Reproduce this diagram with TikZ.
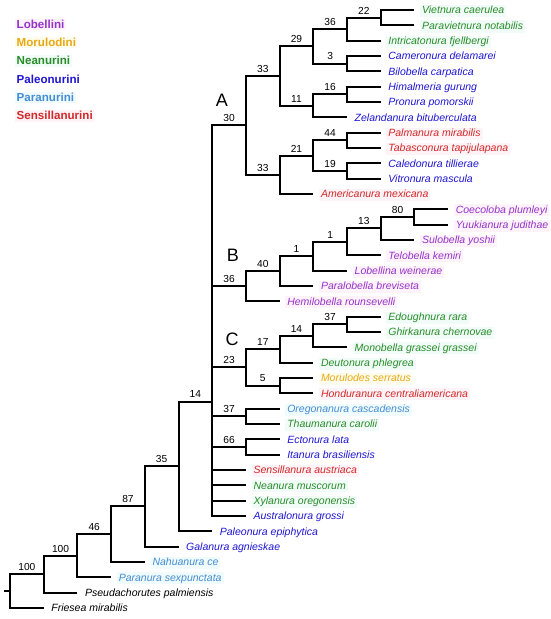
\documentclass[tikz,border=0pt]{standalone}
\usepackage{fontspec}
\setmainfont{Liberation Sans}
\definecolor{cLo}{RGB}{150,50,200}
\definecolor{cMo}{RGB}{232,168,20}
\definecolor{cNe}{RGB}{40,140,40}
\definecolor{cPa}{RGB}{30,20,210}
\definecolor{cPr}{RGB}{70,140,210}
\definecolor{cSe}{RGB}{210,40,40}
\definecolor{bLo}{RGB}{254,243,250}
\definecolor{bMo}{RGB}{254,252,236}
\definecolor{bNe}{RGB}{241,252,248}
\definecolor{bPr}{RGB}{239,251,252}
\definecolor{bSe}{RGB}{254,243,247}
\tikzset{
  br/.style={line width=2pt, line join=miter},
  sp/.style={font=\itshape\fontsize{10.5}{12}\selectfont, inner xsep=2pt, inner ysep=1pt,
    text height=7.8pt, text depth=2.4pt, anchor=base west},
  lbl/.style={font=\fontsize{10.2}{12}\selectfont, above=2.6pt, inner sep=0pt},
  leg/.style={font=\bfseries\fontsize{11.6}{13}\selectfont, anchor=base west, inner xsep=1.5pt, inner ysep=1pt,
    text height=8.5pt, text depth=1pt},
  big/.style={font=\fontsize{18}{20}\selectfont, inner sep=0pt},
  Lo/.style={text=cLo, fill=bLo},
  Mo/.style={text=cMo, fill=bMo},
  Ne/.style={text=cNe, fill=bNe},
  Pa/.style={text=cPa},
  Pr/.style={text=cPr, fill=bPr},
  Se/.style={text=cSe, fill=bSe},
  Bk/.style={text=black}
}
\newcommand\inode[3]{\coordinate (#1) at ({10+33.7*#2},{10+15.33*#3});}
\newcommand\leaf[5]{%
  \coordinate (#1) at ({10+33.7*#2},{10+15.33*#3});
  \node[sp,#4,xshift=5.5pt,yshift=-3.8pt] (#1t) at (#1) {#5};}
\newcommand\edge[2]{\draw[br] (#1) |- (#2);}
\newcommand\ledge[3]{\draw[br] (#1) |- node[lbl,pos=0.75] (#2n) {#3} (#2);}
\begin{document}
\begin{tikzpicture}[x={(1pt,0)}, y={(0,-1pt)}]
\useasboundingbox (0,0) rectangle (550,619);
% legend
\node[leg,Lo] (g1) at (15,28) {Lobellini};
\node[leg,Mo] (g2) at (15,46.4) {Morulodini};
\node[leg,Ne] (g3) at (15,64.7) {Neanurini};
\node[leg,Pa] (g4) at (15,83.1) {Paleonurini};
\node[leg,Pr] (g5) at (15,101.4) {Paranurini};
\node[leg,Se] (g6) at (15,119.8) {Sensillanurini};
% internal nodes
\inode{R}{0}{37.9}
\inode{N1}{1}{36.8}
\inode{N2}{2}{35.6}
\inode{N3}{3}{34.19}
\inode{N4}{4}{32.385}
\inode{N5}{5}{29.77}
\inode{N6}{6}{25.54}
\inode{A}{7}{7.53125}
\inode{A1}{8}{4.3125}
\inode{A11}{9}{2.375}
\inode{A111}{10}{1.25}
\inode{A1111}{11}{0.5}
\inode{A112}{10}{3.5}
\inode{A12}{9}{6.25}
\inode{A121}{10}{5.5}
\inode{A2}{8}{10.75}
\inode{A21}{9}{9.5}
\inode{A211}{10}{8.5}
\inode{A212}{10}{10.5}
\inode{B}{7}{18.015625}
\inode{B1}{8}{17.03125}
\inode{B11}{9}{16.0625}
\inode{B111}{10}{15.125}
\inode{B1111}{11}{14.25}
\inode{B11111}{12}{13.5}
\inode{C}{7}{23.3125}
\inode{C1}{8}{22.125}
\inode{C11}{9}{21.25}
\inode{C111}{10}{20.5}
\inode{C2}{8}{24.5}
\inode{O}{7}{26.5}
\inode{E}{7}{28.5}
\coordinate (stub) at (4,{10+15.33*37.9});
% leaves
\leaf{l0}{12}{0}{Ne}{Vietnura caerulea}
\leaf{l1}{12}{1}{Ne}{Paravietnura notabilis}
\leaf{l2}{11}{2}{Ne}{Intricatonura fjellbergi}
\leaf{l3}{11}{3}{Pa}{Cameronura delamarei}
\leaf{l4}{11}{4}{Pa}{Bilobella carpatica}
\leaf{l5}{11}{5}{Pa}{Himalmeria gurung}
\leaf{l6}{11}{6}{Pa}{Pronura pomorskii}
\leaf{l7}{10}{7}{Pa}{Zelandanura bituberculata}
\leaf{l8}{11}{8}{Se}{Palmanura mirabilis}
\leaf{l9}{11}{9}{Se}{Tabasconura tapijulapana}
\leaf{l10}{11}{10}{Pa}{Caledonura tillierae}
\leaf{l11}{11}{11}{Pa}{Vitronura mascula}
\leaf{l12}{9}{12}{Se}{Americanura mexicana}
\leaf{l13}{13}{13}{Lo}{Coecoloba plumleyi}
\leaf{l14}{13}{14}{Lo}{Yuukianura judithae}
\leaf{l15}{12}{15}{Lo}{Sulobella yoshii}
\leaf{l16}{11}{16}{Lo}{Telobella kemiri}
\leaf{l17}{10}{17}{Lo}{Lobellina weinerae}
\leaf{l18}{9}{18}{Lo}{Paralobella breviseta}
\leaf{l19}{8}{19}{Lo}{Hemilobella rounsevelli}
\leaf{l20}{11}{20}{Ne}{Edoughnura rara}
\leaf{l21}{11}{21}{Ne}{Ghirkanura chernovae}
\leaf{l22}{10}{22}{Ne}{Monobella grassei grassei}
\leaf{l23}{9}{23}{Ne}{Deutonura phlegrea}
\leaf{l24}{9}{24}{Mo}{Morulodes serratus}
\leaf{l25}{9}{25}{Se}{Honduranura centraliamericana}
\leaf{l26}{8}{26}{Pr}{Oregonanura cascadensis}
\leaf{l27}{8}{27}{Ne}{Thaumanura carolii}
\leaf{l28}{8}{28}{Pa}{Ectonura lata}
\leaf{l29}{8}{29}{Pa}{Itanura brasiliensis}
\leaf{l30}{7}{30}{Se}{Sensillanura austriaca}
\leaf{l31}{7}{31}{Ne}{Neanura muscorum}
\leaf{l32}{7}{32}{Ne}{Xylanura oregonensis}
\leaf{l33}{7}{33}{Pa}{Australonura grossi}
\leaf{l34}{6}{34}{Pa}{Paleonura epiphytica}
\leaf{l35}{5}{35}{Pa}{Galanura agnieskae}
\leaf{l36}{4}{36}{Pr}{Nahuanura ce}
\leaf{l37}{3}{37}{Pr}{Paranura sexpunctata}
\leaf{l38}{2}{38}{Bk}{Pseudachorutes palmiensis}
\leaf{l39}{1}{39}{Bk}{Friesea mirabilis}
% branches
\draw[br] (stub) -- (R);
\ledge{R}{N1}{100} \edge{R}{l39}
\ledge{N1}{N2}{100} \edge{N1}{l38}
\ledge{N2}{N3}{46} \edge{N2}{l37}
\ledge{N3}{N4}{87} \edge{N3}{l36}
\ledge{N4}{N5}{35} \edge{N4}{l35}
\ledge{N5}{N6}{14} \edge{N5}{l34}
\ledge{N6}{A}{30} \ledge{N6}{B}{36} \ledge{N6}{C}{23}
\ledge{N6}{O}{37} \ledge{N6}{E}{66}
\edge{N6}{l30} \edge{N6}{l31} \edge{N6}{l32} \edge{N6}{l33}
\ledge{A}{A1}{33} \ledge{A}{A2}{33}
\ledge{A1}{A11}{29} \ledge{A1}{A12}{11}
\ledge{A11}{A111}{36} \ledge{A11}{A112}{3}
\ledge{A111}{A1111}{22} \edge{A111}{l2}
\edge{A1111}{l0} \edge{A1111}{l1}
\edge{A112}{l3} \edge{A112}{l4}
\ledge{A12}{A121}{16} \edge{A12}{l7}
\edge{A121}{l5} \edge{A121}{l6}
\ledge{A2}{A21}{21} \edge{A2}{l12}
\ledge{A21}{A211}{44} \ledge{A21}{A212}{19}
\edge{A211}{l8} \edge{A211}{l9}
\edge{A212}{l10} \edge{A212}{l11}
\ledge{B}{B1}{40} \edge{B}{l19}
\ledge{B1}{B11}{1} \edge{B1}{l18}
\ledge{B11}{B111}{1} \edge{B11}{l17}
\ledge{B111}{B1111}{13} \edge{B111}{l16}
\ledge{B1111}{B11111}{80} \edge{B1111}{l15}
\edge{B11111}{l13} \edge{B11111}{l14}
\ledge{C}{C1}{17} \ledge{C}{C2}{5}
\ledge{C1}{C11}{14} \edge{C1}{l23}
\ledge{C11}{C111}{37} \edge{C11}{l22}
\edge{C111}{l20} \edge{C111}{l21}
\edge{C2}{l24} \edge{C2}{l25}
\edge{O}{l26} \edge{O}{l27}
\edge{E}{l28} \edge{E}{l29}
% clade letters
\node[big] (tA) at (222,100) {A};
\node[big] (tB) at (233,255) {B};
\node[big] (tC) at (232,339) {C};
\end{tikzpicture}
\end{document}
